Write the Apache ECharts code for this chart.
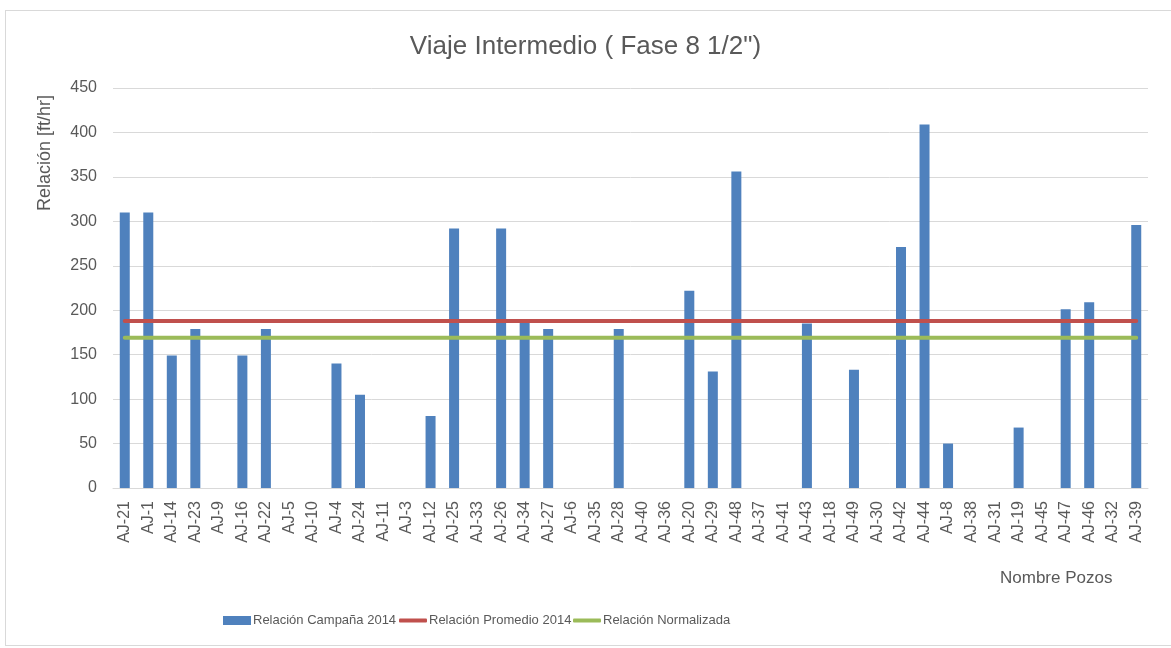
<!DOCTYPE html>
<html>
<head>
<meta charset="utf-8">
<script src="https://cdn.jsdelivr.net/npm/echarts@6/dist/echarts.min.js"></script>
<style>
  html, body { margin: 0; padding: 0; background: #fff; }
  #frame { position: absolute; left: 5px; top: 10px; width: 1166px; height: 636px; border: 1px solid #d9d9d9; border-right: none; box-sizing: border-box; }
  #chart { position: absolute; left: 0; top: 0; width: 1171px; height: 648px; }
</style>
</head>
<body>
<div id="frame"></div>
<div id="chart"></div>
<script>
const pozos = ['AJ-21', 'AJ-1', 'AJ-14', 'AJ-23', 'AJ-9', 'AJ-16', 'AJ-22', 'AJ-5', 'AJ-10', 'AJ-4',
	'AJ-24', 'AJ-11', 'AJ-3', 'AJ-12', 'AJ-25', 'AJ-33', 'AJ-26', 'AJ-34', 'AJ-27', 'AJ-6',
	'AJ-35', 'AJ-28', 'AJ-40', 'AJ-36', 'AJ-20', 'AJ-29', 'AJ-48', 'AJ-37', 'AJ-41', 'AJ-43',
	'AJ-18', 'AJ-49', 'AJ-30', 'AJ-42', 'AJ-44', 'AJ-8', 'AJ-38', 'AJ-31', 'AJ-19', 'AJ-45',
	'AJ-47', 'AJ-46', 'AJ-32', 'AJ-39']

const campana2014 = [310, 310, 149, 179, 0, 149, 179, 0, 0, 140,
	105, 0, 0, 81, 292, 0, 292, 188, 179, 0,
	0, 179, 0, 0, 222, 131, 356, 0, 0, 185,
	0, 133, 0, 271, 409, 50, 0, 0, 68, 0,
	201, 209, 0, 296]

const promedio2014 = 188
const normalizada = 169

const yTicks = { min: 0, max: 450, interval: 50 }

const fontFam = '"Liberation Sans", Arial, sans-serif'
const textColor = '#595959'

// one legend per entry so each key sits where it does in the picture
function legendAt(left, name, icon, h) {
	return {
		left: left,
		top: 609,
		icon: icon,
		itemWidth: 28,
		itemHeight: h,
		textStyle: { fontFamily: fontFam, fontSize: 13, color: textColor, padding: [0, 0, 0, -3] },
		data: [name]
	}
}

const chart = echarts.init(document.getElementById('chart'))

chart.setOption({
	animation: false,
	backgroundColor: 'transparent',
	textStyle: { fontFamily: fontFam, color: textColor },
	title: {
		text: 'Viaje Intermedio ( Fase 8 1/2")',
		left: 'center',
		top: 29,
		textStyle: { fontFamily: fontFam, fontSize: 26, fontWeight: 'normal', color: textColor }
	},
	grid: { left: 113, right: 23, top: 88, bottom: 160 },
	legend: [
		legendAt(218, 'Relación Campaña 2014', 'rect', 9),
		legendAt(394, 'Relación Promedio 2014', 'roundRect', 4),
		legendAt(568, 'Relación Normalizada', 'roundRect', 4)
	],
	xAxis: {
		type: 'category',
		data: pozos,
		axisLine: { lineStyle: { color: '#d9d9d9', width: 1 } },
		axisTick: { show: false },
		axisLabel: { rotate: 90, interval: 0, margin: 13, fontSize: 16, color: textColor, fontFamily: fontFam }
	},
	yAxis: {
		type: 'value',
		min: yTicks.min,
		max: yTicks.max,
		interval: yTicks.interval,
		axisLine: { show: false },
		axisTick: { show: false },
		splitLine: { lineStyle: { color: '#d9d9d9', width: 1 } },
		axisLabel: { margin: 16, fontSize: 16, color: textColor, fontFamily: fontFam }
	},
	graphic: [
		{
			type: 'text',
			x: 45,
			y: 153,
			rotation: Math.PI / 2,
			style: { text: 'Relación [ft/hr]', fontSize: 18, fontFamily: fontFam, fill: textColor, align: 'center', verticalAlign: 'middle' }
		},
		{
			type: 'text',
			x: 1000,
			y: 578,
			style: { text: 'Nombre Pozos', fontSize: 17, fontFamily: fontFam, fill: textColor, align: 'left', verticalAlign: 'middle' }
		}
	],
	series: [
		{
			name: 'Relación Campaña 2014',
			type: 'bar',
			data: campana2014,
			barWidth: 10,
			itemStyle: { color: '#4f81bd' }
		},
		{
			name: 'Relación Promedio 2014',
			type: 'line',
			data: pozos.map(() => promedio2014),
			symbol: 'none',
			lineStyle: { color: '#c0504d', width: 4, cap: 'round' },
			itemStyle: { color: '#c0504d' }
		},
		{
			name: 'Relación Normalizada',
			type: 'line',
			data: pozos.map(() => normalizada),
			symbol: 'none',
			lineStyle: { color: '#9bbb59', width: 4, cap: 'round' },
			itemStyle: { color: '#9bbb59' }
		}
	]
})
</script>
</body>
</html>
